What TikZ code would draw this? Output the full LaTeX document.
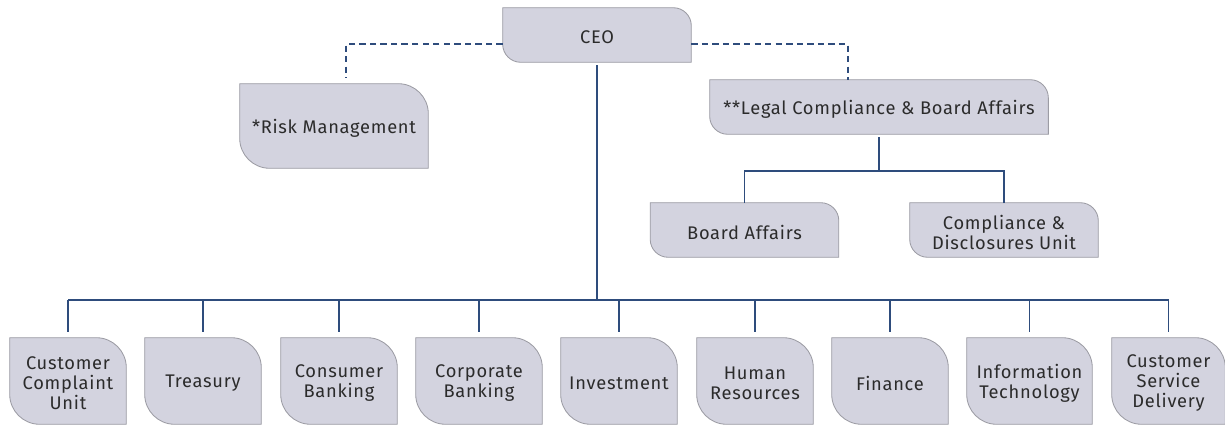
\documentclass[tikz,border=0pt]{standalone}
\usepackage{fontspec}
\setmainfont{Fira Sans}[LetterSpace=4]
\usetikzlibrary{backgrounds}
\definecolor{boxfill}{HTML}{D3D3DF}
\definecolor{boxedge}{HTML}{9C9CA4}
\definecolor{orgblue}{HTML}{2E4C7C}
\definecolor{labelgray}{HTML}{2B2B2B}
\tikzset{
  unit/.style={inner sep=0pt, align=center, text=labelgray, yshift=-1.5pt,
    font=\fontsize{13}{14.3}\selectfont},
  shortbox/.style={unit, minimum width=4.7cm, minimum height=1.35cm},
  riskbox/.style={unit, minimum width=4.7cm, minimum height=2.1cm},
  deptbox/.style={unit, minimum width=2.9cm, minimum height=2.15cm},
  leaf/.style={fill=boxfill, draw=boxedge, line width=0.6pt},
  orgline/.style={draw=orgblue, line width=0.9pt},
  dotline/.style={orgline, line width=0.8pt, dash pattern=on 4.5pt off 3pt}
}
% box with rounded top right and bottom left corners
% (raised by 1.5pt so the label sits a little low in it)
\newcommand{\leafshape}[2]{%
  \draw[leaf] ([yshift=1.5pt]#1.north west) -- ([xshift=-#2, yshift=1.5pt]#1.north east)
    arc[start angle=90, end angle=0, radius=#2] -- ([yshift=1.5pt]#1.south east)
    -- ([xshift=#2, yshift=1.5pt]#1.south west)
    arc[start angle=270, end angle=180, radius=#2] -- cycle;}
\begin{document}
\begin{tikzpicture}[x=0.025cm, y=-0.025cm]
\useasboundingbox (0,0) rectangle (1225,425);
% top of the chart
\node[shortbox] (ceo) at (597,35) {CEO};
\node[riskbox] (risk) at (334,126) {*Risk Management};
\node[shortbox, minimum width=8.45cm] (legal) at (879,107) {**Legal Compliance \& Board Affairs};
\node[shortbox] (board) at (744.5,230) {Board Affairs};
\node[shortbox] (discl) at (1004,230) {Compliance \&\\Disclosures Unit};
% departments
\node[deptbox] (complaint) at (68,381) {Customer\\Complaint\\Unit};
\node[deptbox] (treasury) at (203,381) {Treasury};
\node[deptbox] (consumer) at (339,381) {Consumer\\Banking};
\node[deptbox, minimum width=3.15cm] (corporate) at (479,381) {Corporate\\Banking};
\node[deptbox] (invest) at (619,381) {Investment};
\node[deptbox] (hr) at (755,381) {Human\\Resources};
\node[deptbox] (finance) at (890,381) {Finance};
\node[deptbox, minimum width=3.125cm] (it) at (1029.5,381) {Information\\Technology};
\node[deptbox, minimum width=2.825cm] (service) at (1168.5,381) {Customer\\Service\\Delivery};
\begin{scope}[on background layer]
\foreach \n in {ceo,legal,board,discl}
  \leafshape{\n}{0.45cm};
\foreach \n in {risk,complaint,treasury,consumer,corporate,invest,hr,finance,it,service}
  \leafshape{\n}{0.75cm};
\end{scope}
% reporting lines
\coordinate (bus) at (597,300);
\draw[orgline] ([yshift=-0.5pt]ceo.south) -- (bus);
\draw[orgline] (bus -| complaint.north) -- (bus -| service.north);
\foreach \n in {complaint,treasury,consumer,corporate,invest,hr,finance,it,service}
  \draw[orgline] (bus -| \n.north) -- ([yshift=5.5pt]\n.north);
\draw[dotline] ([yshift=-4.9pt]ceo.west) -| ([xshift=0.3cm, yshift=5.5pt]risk.north);
\draw[dotline] ([yshift=-4.9pt]ceo.east) -| ([xshift=-0.775cm, yshift=1.5pt]legal.north);
\coordinate (subbus) at (879,171);
\draw[orgline] ([yshift=-0.5pt]legal.south) -- (subbus);
\draw[orgline] ([yshift=1.5pt]board.north) |- (subbus) -| ([yshift=1.5pt]discl.north);
\end{tikzpicture}
\end{document}
